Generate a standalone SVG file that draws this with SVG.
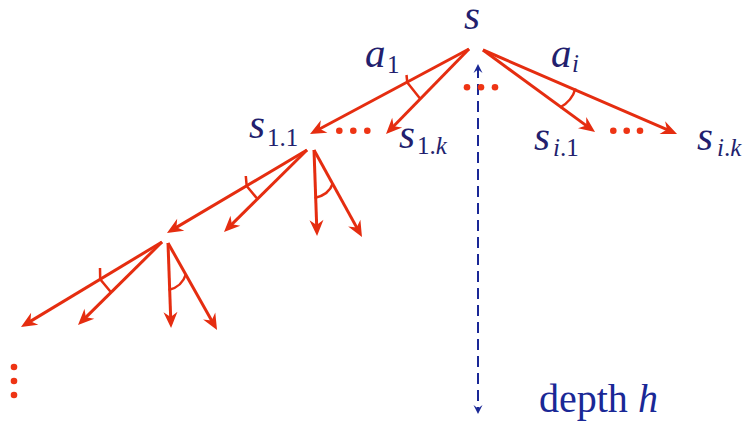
<svg xmlns="http://www.w3.org/2000/svg" width="743" height="426" viewBox="0 0 743 426">
<style>
.lbl{font-family:"Liberation Serif","Times New Roman",serif;fill:#231f6e;}
.big{font-size:41px;font-style:italic;}
.sub{font-size:25px;}
.it{font-style:italic;}
.arr{stroke:#e52d10;stroke-width:3;fill:none;marker-end:url(#ah);}
.ang{stroke:#e52d10;stroke-width:2.5;fill:none;}
.dot{fill:#ee3414;}
.depth{font-family:"Liberation Serif","Times New Roman",serif;font-size:40px;fill:#1a2896;}
</style>
<defs>
<marker id="ah" markerUnits="userSpaceOnUse" orient="auto" refX="0" refY="0" markerWidth="30" markerHeight="30" overflow="visible">
<path d="M7,0 L-9,-7 L-4,0 L-9,7 Z" fill="#e52d10"/>
</marker>
<marker id="bh" markerUnits="userSpaceOnUse" orient="auto-start-reverse" refX="0" refY="0" markerWidth="20" markerHeight="20" overflow="visible">
<path d="M3,0 L-6,-4.5 L-2.5,0 L-6,4.5 Z" fill="#1a2896"/>
</marker>
</defs>

<g id="connectors">
<line class="arr" x1="469" y1="49" x2="316.2" y2="130.7"/>
<line class="arr" x1="469" y1="49" x2="390.9" y2="129"/>
<line class="arr" x1="483" y1="50" x2="589.4" y2="127.9"/>
<line class="arr" x1="483" y1="50" x2="670.6" y2="131.2"/>
<line class="arr" x1="307" y1="150" x2="173" y2="229.4"/>
<line class="arr" x1="307" y1="150" x2="229" y2="227.1"/>
<line class="arr" x1="314" y1="150" x2="316.8" y2="229"/>
<line class="arr" x1="314" y1="150" x2="358.6" y2="230.9"/>
<line class="arr" x1="162" y1="242" x2="27" y2="323.4"/>
<line class="arr" x1="162" y1="242" x2="83" y2="320.1"/>
<line class="arr" x1="168" y1="243" x2="170.8" y2="321"/>
<line class="arr" x1="168" y1="243" x2="213.6" y2="323.9"/>
<path class="ang" d="M406.5,75 L407.3,82.5 L420,98.5"/>
<path class="ang" d="M560,107.5 Q572,101 575.5,88.5"/>
<path class="ang" d="M245.8,176 L246.7,186 L257.3,198.8"/>
<path class="ang" d="M314.5,198 Q329,195 333,183"/>
<path class="ang" d="M100,268 L100.2,279.3 L110.8,292"/>
<path class="ang" d="M168.5,290 Q182,287 186,274"/>
<line x1="478" y1="67" x2="478" y2="411" stroke="#1a2896" stroke-width="2" stroke-dasharray="11 6" marker-start="url(#bh)" marker-end="url(#bh)"/>
</g>

<g id="node-s"><text class="lbl big" x="464" y="29">s</text></g>
<g id="label-a1"><text class="lbl big" x="365" y="67">a</text><text class="lbl sub" x="387" y="73">1</text></g>
<g id="label-ai"><text class="lbl big" x="551" y="67">a</text><text class="lbl sub it" x="572" y="72">i</text></g>
<g id="node-s11"><text class="lbl big" x="249" y="138">s</text><text class="lbl sub" x="267" y="146">1.1</text></g>
<g id="node-s1k"><text class="lbl big" x="399" y="148">s</text><text class="lbl sub" x="417" y="154">1.<tspan class="it">k</tspan></text></g>
<g id="node-si1"><text class="lbl big" x="534" y="150">s</text><text class="lbl sub" x="553" y="156"><tspan class="it">i</tspan>.1</text></g>
<g id="node-sik"><text class="lbl big" x="697" y="150">s</text><text class="lbl sub" x="717" y="156"><tspan class="it">i</tspan>.<tspan class="it">k</tspan></text></g>

<g id="dots-root"><circle class="dot" cx="467" cy="87.3" r="3.3"/><circle class="dot" cx="481" cy="87.3" r="3.3"/><circle class="dot" cx="495" cy="87.3" r="3.3"/></g>
<g id="dots-s1"><circle class="dot" cx="339.3" cy="130.7" r="3.3"/><circle class="dot" cx="353.3" cy="130.7" r="3.3"/><circle class="dot" cx="367.3" cy="130.7" r="3.3"/></g>
<g id="dots-si"><circle class="dot" cx="613.3" cy="130.7" r="3.3"/><circle class="dot" cx="626.7" cy="130.7" r="3.3"/><circle class="dot" cx="640" cy="130.7" r="3.3"/></g>
<g id="dots-vert"><circle class="dot" cx="14" cy="367" r="3.3"/><circle class="dot" cx="14" cy="381" r="3.3"/><circle class="dot" cx="14" cy="395" r="3.3"/></g>

<g id="label-depth"><text class="depth" x="539" y="412">depth <tspan font-style="italic">h</tspan></text></g>
</svg>
